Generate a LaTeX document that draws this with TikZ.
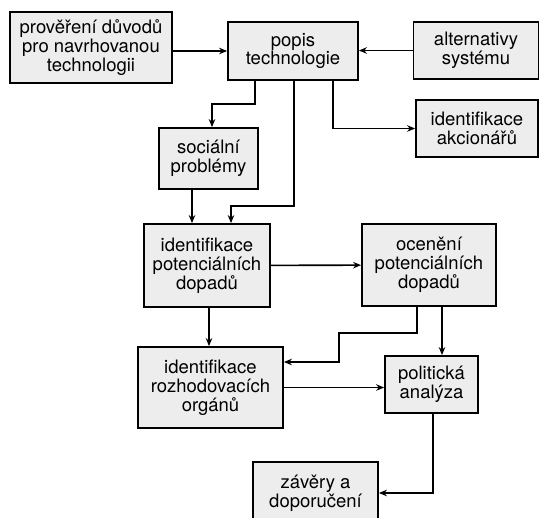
\documentclass[tikz,border=0pt]{standalone}
\usepackage{fontspec}
\setmainfont{TeX Gyre Heros}
\usetikzlibrary{arrows.meta}
\tikzset{
  box/.style={draw, line width=1.8pt, fill=black!7, align=center,
    inner sep=1pt, font=\fontsize{18.5}{18.8}\selectfont},
  arr/.style={line width=1.6pt, -{Stealth[length=8pt,width=6.5pt]}}
}
\begin{document}
\begin{tikzpicture}[x=1pt,y=-1pt]
\useasboundingbox (0,0) rectangle (540,517);
\node[box, minimum width=162, minimum height=71] (duvody) at (91,47.5) {prověření důvodů\\pro navrhovanou\\technologii};
\node[box, minimum width=130, minimum height=58] (popis) at (293,51) {popis\\technologie};
\node[box, minimum width=125, minimum height=57] (alter) at (476,50.5) {alternativy\\systému};
\node[box, minimum width=122, minimum height=57] (akcion) at (477,128.5) {identifikace\\akcionářů};
\node[box, minimum width=99, minimum height=61] (social) at (208.5,158.5) {sociální\\problémy};
\node[box, minimum width=126, minimum height=83] (identdop) at (207,265.5) {identifikace\\potenciálních\\dopadů};
\node[box, minimum width=134, minimum height=82] (ocen) at (429,265) {ocenění\\potenciálních\\dopadů};
\node[box, minimum width=145, minimum height=81] (organ) at (210.5,387.5) {identifikace\\rozhodovacích\\orgánů};
\node[box, minimum width=93, minimum height=57] (polit) at (431.5,384.5) {politická\\analýza};
\node[box, minimum width=125, minimum height=62] (zaver) at (315.5,493) {závěry a\\doporučení};
% top row
\draw[arr] (duvody.east |- popis.west) -- (popis.west);
\draw[arr] (alter.west) -- (alter.west -| popis.east);
% out of popis technologie
\draw[arr] ([xshift=-38pt]popis.south) -- ++(0,23) -| ([xshift=3.5pt]social.north);
\draw[arr] ([xshift=40pt]popis.south) |- (akcion.west);
\draw[arr] ([xshift=1pt]popis.south) -- ++(0,125) -| ([xshift=24pt]identdop.north);
\draw[arr] ([xshift=-16.5pt]social.south) -- ([xshift=-16.5pt]social.south |- identdop.north);
% middle
\draw[arr] (identdop) -- (ocen);
\draw[arr] ([xshift=2pt]identdop.south) -- ([xshift=2pt]identdop.south |- organ.north);
\draw[arr] ([xshift=-12pt]ocen.south) |- ++(-78,26) |- ([yshift=25.5pt]organ.east);
\draw[arr] ([xshift=13pt]ocen.south) -- ([xshift=13pt]ocen.south |- polit.north);
\draw[arr] (organ.east) -- (organ.east -| polit.west);
% bottom
\draw[arr] ([xshift=1.5pt]polit.south) |- (zaver.east);
\end{tikzpicture}
\end{document}
